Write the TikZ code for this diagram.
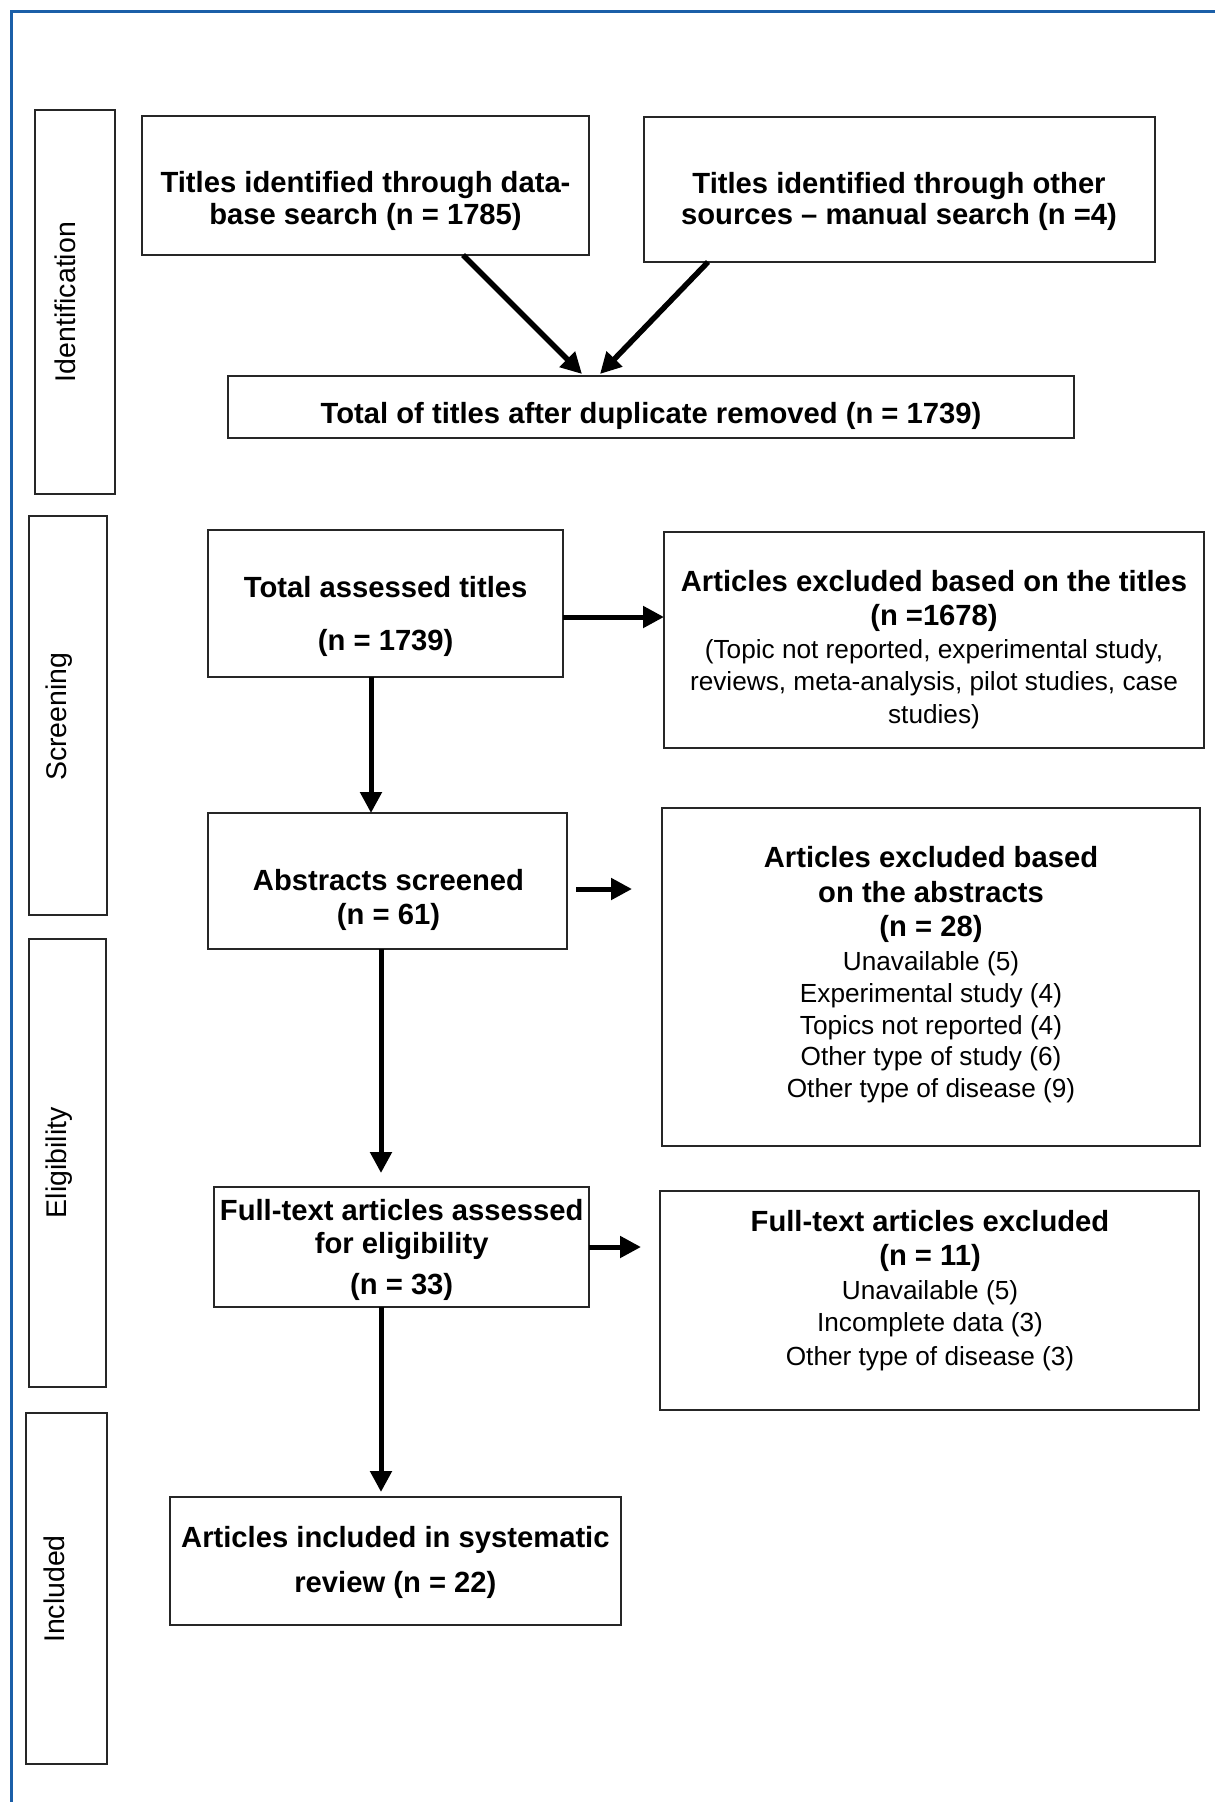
\documentclass[tikz,border=0pt]{standalone}
\usepackage{fontspec}
\setmainfont{Liberation Sans}
\usetikzlibrary{arrows.meta,calc}
\definecolor{frameblue}{HTML}{1B5FA8}
\definecolor{boxline}{HTML}{262626}
\newcommand\regtext{\mdseries\fontsize{26.2}{32}\selectfont}
\begin{document}
\begin{tikzpicture}[x=1pt,y=-1pt,
  box/.style={draw=boxline,line width=2.6pt,rectangle,inner sep=0pt,outer sep=0pt},
  bt/.style={align=center,inner sep=0pt,yshift=-3pt,font=\fontsize{29.2}{34}\selectfont\bfseries},
  sidelabel/.style={inner sep=0pt,rotate=90,text height=20.5pt,text depth=0pt,font=\fontsize{28.5}{34}\selectfont},
  arr/.style={line width=5pt,-{Triangle[length=21pt,width=21pt]}}]
\useasboundingbox (0,0) rectangle (1215,1802);
\fill[white] (0,0) rectangle (1215,1802);
\draw[frameblue,line width=3pt] (11.5,1802) -- (11.5,11.5) -- (1215,11.5);

% side boxes
\node[box,minimum width=80pt,minimum height=384pt] (s1) at (75,302) {};
\node[box,minimum width=78pt,minimum height=399pt] (s2) at (68,715.5) {};
\node[box,minimum width=77pt,minimum height=448pt] (s3) at (67.5,1163) {};
\node[box,minimum width=81pt,minimum height=351pt] (s4) at (66.5,1588.5) {};
\node[sidelabel] (l1) at (65.5,302) {Identification};
\node[sidelabel] (l2) at (56,716.7) {Screening};
\node[sidelabel] (l3) at (56,1162.7) {Eligibility};
\node[sidelabel] (l4) at (54,1589) {Included};

% main boxes
\node[box,minimum width=447pt,minimum height=139pt] (b1) at (365.5,185.5) {};
\node[box,minimum width=511pt,minimum height=145pt] (b2) at (899.5,189.5) {};
\node[box,minimum width=846pt,minimum height=62pt] (b3) at (651,407) {};
\node[box,minimum width=355pt,minimum height=147pt] (b4) at (385.5,603.5) {};
\node[box,minimum width=540pt,minimum height=216pt] (b5) at (934,640) {};
\node[box,minimum width=359pt,minimum height=136pt] (b6) at (387.5,881) {};
\node[box,minimum width=538pt,minimum height=338pt] (b7) at (931,977) {};
\node[box,minimum width=375pt,minimum height=120pt] (b8) at (401.5,1247) {};
\node[box,minimum width=539pt,minimum height=219pt] (b9) at (929.5,1300.5) {};
\node[box,minimum width=451pt,minimum height=128pt] (b10) at (395.5,1561) {};

% texts
\node[bt] (t1) at (365.5,198) {Titles identified through data-\\[-2pt]base search (n = 1785)};
\node[bt] (t2) at (899,198.5) {Titles identified through other\\[-3pt]sources -- manual search (n =4)};
\node[bt] (t3) at (651,413) {Total of titles after duplicate removed (n = 1739)};
\node[bt] (t4) at (385.7,613.5) {Total assessed titles\\[19pt](n = 1739)};
\node[bt] (t5) at (934,646.5) {Articles excluded based on the titles\\(n =1678)\\[-1pt]\regtext (Topic not reported, experimental study,\\[-2pt]\regtext reviews, meta-analysis, pilot studies, case\\[-1pt]\regtext studies)};
\node[bt] (t6) at (388.5,896.5) {Abstracts screened\\(n = 61)};
\node[bt] (t7) at (931,971.5) {Articles excluded based\\[1pt]on the abstracts\\(n = 28)\\\regtext Unavailable (5)\\[-2pt]\regtext Experimental study (4)\\[-2pt]\regtext Topics not reported (4)\\[-3pt]\regtext Other type of study (6)\\[-2pt]\regtext Other type of disease (9)};
\node[bt] (t8) at (401.7,1247) {Full-text articles assessed\\[-1pt]for eligibility\\[7pt](n = 33)};
\node[bt] (t9) at (930,1288) {Full-text articles excluded\\(n = 11)\\\regtext Unavailable (5)\\[-2pt]\regtext Incomplete data (3)\\\regtext Other type of disease (3)};
\node[bt] (t10) at (395.4,1559.5) {Articles included in systematic\\[11pt]review (n = 22)};

% connectors
\draw[arr,line width=5.5pt] ([xshift=97.5pt]b1.south) -- ([xshift=-69pt,yshift=2pt]b3.north);
\draw[arr,line width=5.5pt] ([xshift=-191.5pt]b2.south) -- ([xshift=-51pt,yshift=2pt]b3.north);
\draw[arr] ([yshift=-13.5pt]b4.east) -- ([yshift=-13.5pt]b4.east -| b5.west);
\draw[arr] ([xshift=-14.5pt]b4.south) -- ([xshift=-14.5pt]b4.south |- b6.north);
\draw[arr] ([xshift=9pt,yshift=-8pt]b6.east) -- ($(b6.east -| b7.west)+(-30,8)$);
\draw[arr] ([xshift=-6.5pt]b6.south) -- ($(b8.north -| b6.south)+(-6.5,-14)$);
\draw[arr] (b8.east) -- ($(b8.east)+(52,0)$);
\draw[arr] ([xshift=-20.5pt]b8.south) -- ($(b10.north -| b8.south)+(-20.5,-5)$);
\end{tikzpicture}
\end{document}
